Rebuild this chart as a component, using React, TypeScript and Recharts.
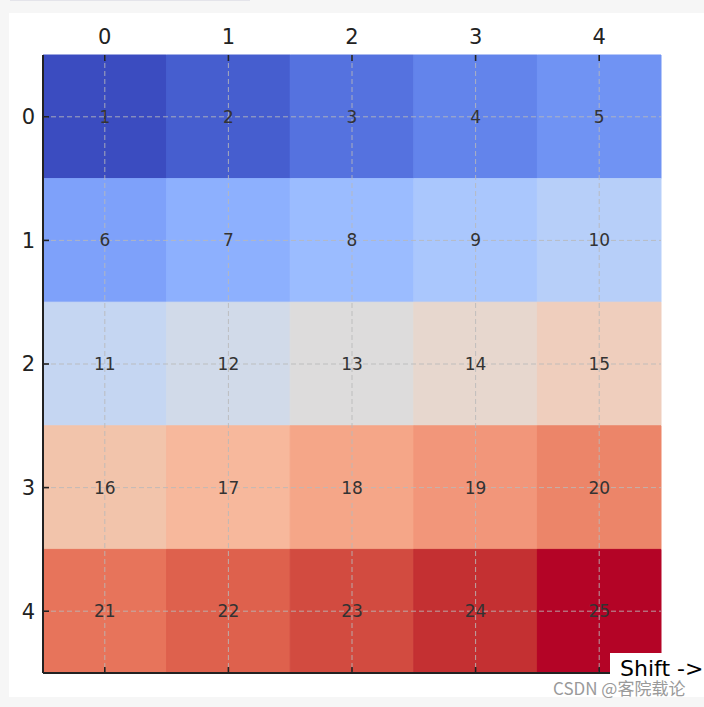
import React from 'react';
import {
  ScatterChart,
  Scatter,
  XAxis,
  YAxis,
  ReferenceArea,
  ReferenceLine,
} from 'recharts';

// ---- data ----
const colTicks = [0, 1, 2, 3, 4];
const rowTicks = [0, 1, 2, 3, 4];
const row0 = [1, 2, 3, 4, 5];
const row1 = [6, 7, 8, 9, 10];
const row2 = [11, 12, 13, 14, 15];
const row3 = [16, 17, 18, 19, 20];
const row4 = [21, 22, 23, 24, 25];
const rows = [row0, row1, row2, row3, row4];

// coolwarm colours for values 1..25
const coolwarm = [
  '#3b4cc0', '#465ecf', '#5572df', '#6384eb', '#7093f3',
  '#7ea1fa', '#8db0fe', '#9bbcff', '#aac7fd', '#b7cff9',
  '#c5d6f2', '#d1dae9', '#dddcdc', '#e7d7ce', '#efcebd',
  '#f2c4ab', '#f7b89c', '#f5a688', '#f2967a', '#ec8569',
  '#e7745b', '#de614d', '#d24b40', '#c43032', '#b40426',
];

const cells = rows.flatMap((vals, r) =>
  vals.map((v, c) => ({ x: colTicks[c], y: rowTicks[r], v }))
);

const FONT = "'DejaVu Sans', sans-serif";

const LabelShape = (props: any) => {
  const { cx, cy, payload } = props;
  if (cx == null || cy == null) return null;
  return (
    <text
      x={cx}
      y={cy}
      textAnchor="middle"
      dominantBaseline="central"
      fontSize={17}
      fontFamily={FONT}
      fill="#333333"
    >
      {payload.v}
    </text>
  );
};

export default function App() {
  return (
    <div
      style={{
        position: 'absolute',
        left: 0,
        top: 0,
        width: 704,
        height: 707,
        background: '#f6f6f6',
        overflow: 'hidden',
      }}
    >
      <div
        style={{
          position: 'absolute',
          left: 10,
          top: 0,
          width: 240,
          height: 1,
          background: '#e4e4ea',
        }}
      />
      <div
        style={{
          position: 'absolute',
          left: 9,
          top: 13,
          width: 695,
          height: 684,
          background: '#ffffff',
        }}
      />
      <div style={{ position: 'absolute', left: 0, top: 0 }}>
        <ScatterChart
          width={704}
          height={707}
          margin={{ top: 30, right: 43, bottom: 33, left: 0 }}
        >
          <XAxis
            xAxisId="top"
            orientation="top"
            type="number"
            dataKey="x"
            domain={[-0.5, 4.5]}
            ticks={colTicks}
            allowDataOverflow
            height={25}
            axisLine={false}
            tickSize={-6}
            tickMargin={17}
            tickLine={{ stroke: '#222', strokeWidth: 1.6 }}
            tick={{ fontSize: 21, fill: '#222', fontFamily: FONT }}
          />
          <XAxis
            xAxisId="bottom"
            orientation="bottom"
            type="number"
            dataKey="x"
            domain={[-0.5, 4.5]}
            ticks={colTicks}
            allowDataOverflow
            height={1}
            axisLine={{ stroke: '#222', strokeWidth: 2 }}
            tickSize={-6}
            tickLine={{ stroke: '#222', strokeWidth: 1.6 }}
            tickFormatter={() => ''}
          />
          <YAxis
            yAxisId="left"
            type="number"
            dataKey="y"
            domain={[-0.5, 4.5]}
            ticks={rowTicks}
            reversed
            allowDataOverflow
            width={43}
            axisLine={{ stroke: '#222', strokeWidth: 2 }}
            tickSize={-6}
            tickMargin={14}
            tickLine={{ stroke: '#222', strokeWidth: 1.6 }}
            tick={{ fontSize: 21, fill: '#222', fontFamily: FONT }}
          />
          {cells.map((d) => (
            <ReferenceArea
              key={`c-${d.x}-${d.y}`}
              xAxisId="top"
              yAxisId="left"
              x1={d.x - 0.5}
              x2={d.x + 0.5}
              y1={d.y - 0.5}
              y2={d.y + 0.5}
              fill={coolwarm[d.v - 1]}
              fillOpacity={1}
              stroke={coolwarm[d.v - 1]}
              strokeWidth={1}
              ifOverflow="visible"
            />
          ))}
          {colTicks.map((t) => (
            <ReferenceLine
              key={`vx-${t}`}
              xAxisId="top"
              yAxisId="left"
              x={t}
              stroke="#b8b8b8"
              strokeOpacity={0.85}
              strokeDasharray="5 3"
              strokeWidth={1}
            />
          ))}
          {rowTicks.map((t) => (
            <ReferenceLine
              key={`hy-${t}`}
              xAxisId="top"
              yAxisId="left"
              y={t}
              stroke="#b8b8b8"
              strokeOpacity={0.85}
              strokeDasharray="5 3"
              strokeWidth={1}
            />
          ))}
          <Scatter
            xAxisId="top"
            yAxisId="left"
            data={cells}
            isAnimationActive={false}
            shape={LabelShape}
          />
        </ScatterChart>
      </div>
      <div
        style={{
          position: 'absolute',
          left: 610,
          top: 653,
          width: 94,
          height: 40,
          background: '#ffffff',
        }}
      />
      <div
        style={{
          position: 'absolute',
          left: 620,
          top: 656,
          fontFamily: FONT,
          fontSize: 22,
          color: '#000',
          whiteSpace: 'nowrap',
          lineHeight: '26px',
        }}
      >
        Shift -&gt;
      </div>
      <div
        style={{
          position: 'absolute',
          left: 553,
          top: 678,
          fontFamily: "'Noto Sans CJK SC', 'Noto Sans', sans-serif",
          fontSize: 17,
          color: '#9a9a9a',
          whiteSpace: 'nowrap',
          lineHeight: '20px',
        }}
      >
        CSDN @客院载论
      </div>
    </div>
  );
}
